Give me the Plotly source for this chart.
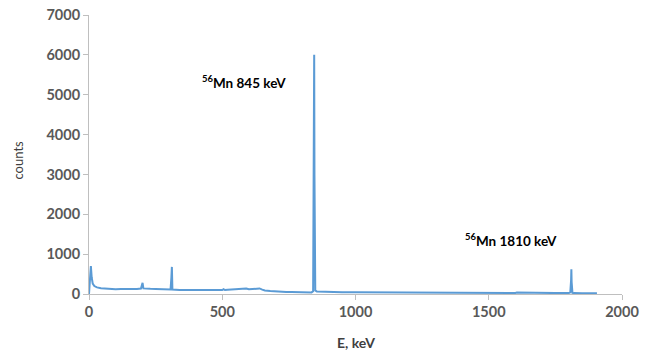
import plotly.graph_objects as go

energy_kev = [0, 3, 7, 10, 14, 20, 30, 45, 60, 80, 100, 120, 140, 160, 180, 195, 198, 201, 204, 210,
              230, 250, 270, 290, 306, 309, 311, 313, 320, 340, 360, 380, 400, 420, 440, 460, 480,
              500, 505, 510, 520, 540, 560, 580, 590, 600, 620, 630, 640, 650, 660, 680, 700, 720,
              740, 760, 780, 800, 820, 835, 841, 844, 845, 846, 849, 855, 870, 900, 950, 1000, 1050,
              1100, 1150, 1200, 1250, 1300, 1350, 1400, 1450, 1500, 1550, 1600, 1605, 1650, 1700,
              1750, 1800, 1806, 1809, 1810, 1811, 1814, 1820, 1850, 1880, 1906]
counts = [0, 300, 700, 420, 260, 200, 165, 145, 135, 125, 122, 128, 124, 132, 128, 135, 200, 280, 140, 135,
          130, 126, 122, 118, 112, 400, 680, 112, 105, 102, 98, 100, 95, 98, 92, 96, 94,
          98, 120, 100, 104, 108, 112, 115, 135, 118, 135, 150, 140, 110, 90, 75, 62, 55,
          50, 48, 45, 42, 40, 40, 70, 3500, 6000, 3000, 90, 60, 55, 50, 47, 45, 42,
          40, 38, 36, 35, 33, 32, 30, 30, 28, 27, 27, 35, 26, 25,
          24, 23, 40, 350, 620, 300, 30, 22, 21, 20, 18]

annotations = [
    {"text": "<sup>56</sup>Mn 845 keV", "x": 580, "y": 5330},
    {"text": "<sup>56</sup>Mn 1810 keV", "x": 1585, "y": 1350},
]

x_ticks = [0, 500, 1000, 1500, 2000]
y_ticks = [0, 1000, 2000, 3000, 4000, 5000, 6000, 7000]

FONT = "Lato, Liberation Sans, sans-serif"

fig = go.Figure()
fig.add_trace(go.Scatter(x=energy_kev, y=counts, mode="lines",
                         line=dict(color="#5B9BD5", width=2), showlegend=False))

for a in annotations:
    fig.add_annotation(x=a["x"], y=a["y"], text="<b>" + a["text"] + "</b>", showarrow=False,
                       font=dict(family=FONT, size=13.5, color="#000000"))

# axis titles placed in paper coordinates
fig.add_annotation(x=0.5, y=-0.175, xref="paper", yref="paper", text="<b>E, keV</b>",
                   showarrow=False, xanchor="center", yanchor="middle",
                   font=dict(family=FONT, size=14, color="#404040"))
fig.add_annotation(x=-0.133, y=0.479, xref="paper", yref="paper", text="counts", textangle=-90,
                   showarrow=False, xanchor="center", yanchor="middle",
                   font=dict(family=FONT, size=13, color="#404040"))

axis_font = dict(family=FONT, size=14.5, color="#595959", weight="bold")
fig.update_layout(
    width=650, height=353,
    margin=dict(l=89, r=28, t=15, b=59),
    paper_bgcolor="white", plot_bgcolor="white",
    xaxis=dict(range=[0, 2000], tickvals=x_ticks, ticktext=[str(v) for v in x_ticks],
               showgrid=False, zeroline=False, showline=True, linecolor="#BFBFBF", linewidth=1,
               ticks="outside", tickcolor="#BFBFBF", ticklen=5, tickfont=axis_font, automargin=False),
    yaxis=dict(range=[0, 7000], tickvals=y_ticks, ticktext=[str(v) for v in y_ticks],
               showgrid=False, zeroline=False, showline=True, linecolor="#BFBFBF", linewidth=1,
               ticks="outside", tickcolor="#BFBFBF", ticklen=5, tickfont=axis_font, automargin=False),
)

fig.write_html("out.html")
